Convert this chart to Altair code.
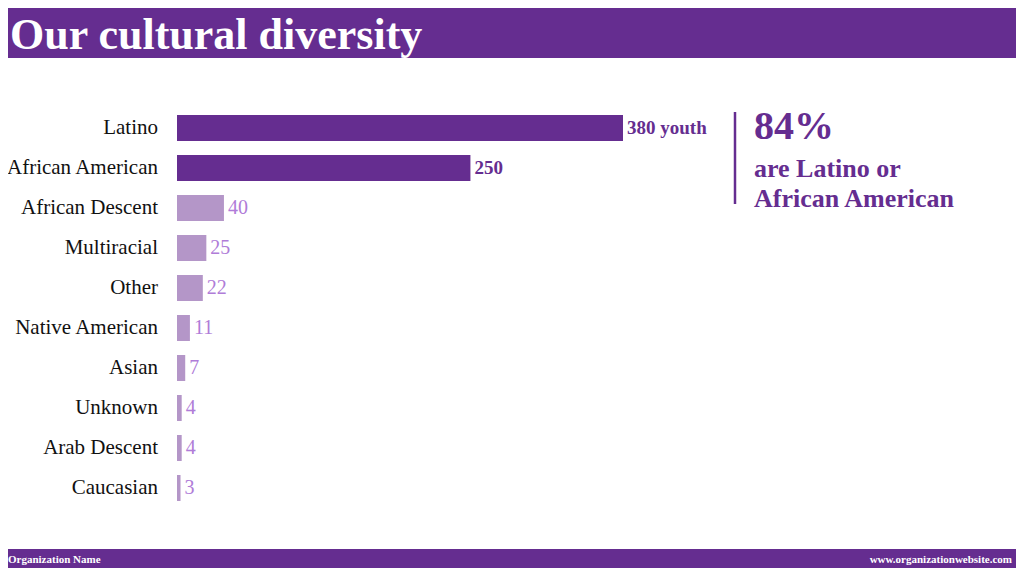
import altair as alt
import pandas as pd

categories = ["Latino", "African American", "African Descent", "Multiracial", "Other",
              "Native American", "Asian", "Unknown", "Arab Descent", "Caucasian"]
values = [380, 250, 40, 25, 22, 11, 7, 4, 4, 3]
value_labels = ["380 youth", "250", "40", "25", "22", "11", "7", "4", "4", "3"]
groups = ["hi", "hi", "lo", "lo", "lo", "lo", "lo", "lo", "lo", "lo"]

title_text = ["Our cultural diversity"]
stat_big = ["84%"]
stat_lines = ["are Latino or", "African American"]
footer_left = ["Organization Name"]
footer_right = ["www.organizationwebsite.com"]

W, H = 1008, 560
DARK = "#652D90"
LIGHT = "#B496C8"
LIGHT_TEXT = "#B07CD8"
FONT = "Liberation Serif"

df = pd.DataFrame({"category": categories, "value": values,
                   "label": value_labels, "group": groups})

xscale = alt.Scale(domain=[0, 380], range=[169, 615])
yscale = alt.Scale(domain=categories, range=[100, 500], paddingInner=0.35, paddingOuter=0.175)

base = alt.Chart(df)

bars = base.mark_bar().encode(
    x=alt.X("value:Q", scale=xscale, axis=None),
    y=alt.Y("category:N", scale=yscale, sort=categories, axis=None),
    color=alt.Color("group:N", scale=alt.Scale(domain=["hi", "lo"], range=[DARK, LIGHT]), legend=None),
)

cat_labels = base.mark_text(align="right", baseline="middle", font=FONT, fontSize=21, color="#111111").encode(
    x=alt.value(150),
    y=alt.Y("category:N", scale=yscale, sort=categories, axis=None),
    text="category:N",
)

val_hi = base.transform_filter(alt.datum.group == "hi").mark_text(
    align="left", baseline="middle", dx=4, font=FONT, fontSize=19, fontWeight="bold", color=DARK
).encode(
    x=alt.X("value:Q", scale=xscale, axis=None),
    y=alt.Y("category:N", scale=yscale, sort=categories, axis=None),
    text="label:N",
)

val_lo = base.transform_filter(alt.datum.group == "lo").mark_text(
    align="left", baseline="middle", dx=4, font=FONT, fontSize=20, color=LIGHT_TEXT
).encode(
    x=alt.X("value:Q", scale=xscale, axis=None),
    y=alt.Y("category:N", scale=yscale, sort=categories, axis=None),
    text="label:N",
)

one = alt.Chart(pd.DataFrame({"t": title_text}))

header = one.mark_rect(color=DARK).encode(
    x=alt.value(0), x2=alt.value(W), y=alt.value(0), y2=alt.value(50))
title = one.mark_text(align="left", baseline="alphabetic", font=FONT, fontSize=44,
                      fontWeight="bold", color="white").encode(
    x=alt.value(2), y=alt.value(41), text="t:N")

footer = one.mark_rect(color=DARK).encode(
    x=alt.value(0), x2=alt.value(W), y=alt.value(541), y2=alt.value(H))
fl = alt.Chart(pd.DataFrame({"t": footer_left})).mark_text(
    align="left", baseline="alphabetic", font=FONT, fontSize=11, fontWeight="bold", color="white"
).encode(x=alt.value(0), y=alt.value(555), text="t:N")
fr = alt.Chart(pd.DataFrame({"t": footer_right})).mark_text(
    align="right", baseline="alphabetic", font=FONT, fontSize=11, fontWeight="bold", color="white"
).encode(x=alt.value(1004), y=alt.value(555), text="t:N")

divider = one.mark_rule(color=DARK, strokeWidth=2.5).encode(
    x=alt.value(727), y=alt.value(104), y2=alt.value(196))
big = alt.Chart(pd.DataFrame({"t": stat_big})).mark_text(
    align="left", baseline="alphabetic", font=FONT, fontSize=40, fontWeight="bold", color=DARK
).encode(x=alt.value(746), y=alt.value(131), text="t:N")
line1 = alt.Chart(pd.DataFrame({"t": [stat_lines[0]]})).mark_text(
    align="left", baseline="alphabetic", font=FONT, fontSize=26, fontWeight="bold", color=DARK
).encode(x=alt.value(746), y=alt.value(169), text="t:N")
line2 = alt.Chart(pd.DataFrame({"t": [stat_lines[1]]})).mark_text(
    align="left", baseline="alphabetic", font=FONT, fontSize=26, fontWeight="bold", color=DARK
).encode(x=alt.value(746), y=alt.value(199), text="t:N")

chart = alt.layer(
    header, title, bars, cat_labels, val_hi, val_lo, divider, big, line1, line2, footer, fl, fr
).properties(
    width=W, height=H, padding=0, autosize=alt.AutoSizeParams(type="none"), background="white"
).configure_view(stroke=None)

chart.save("out.html", embed_options={"renderer": "svg", "actions": False})
